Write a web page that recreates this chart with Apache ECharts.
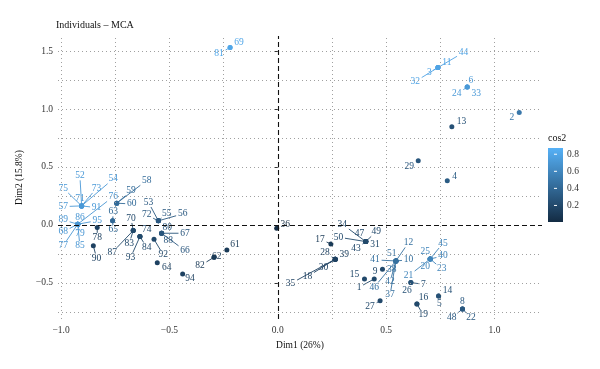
<!DOCTYPE html>
<html><head><meta charset="utf-8">
<script src="https://cdn.jsdelivr.net/npm/echarts@6/dist/echarts.min.js"></script>
<style>html,body{margin:0;padding:0;background:#fff}#c{width:600px;height:369px}</style>
</head><body><div id="c"></div>
<script>
// individual labels
const ids = [69,81,
 11,3,44,32,
 6,24,33,
 2,13,4,29,
 52,75,73,54,71,57,91,
 89,86,95,68,79,77,85,76,
 59,60,58,
 63,65,
 78,
 90,
 70,83,87,
 74,93,84,
 53,72,55,56,
 80,67,88,66,
 92,
 64,
 94,
 62,82,
 61,
 36,
 17,
 39,28,30,18,35,
 34,47,49,50,31,43,
 15,
 1,
 9,
 51,41,10,38,42,37,12,46,
 25,20,21,45,40,23,
 7,26,
 27,
 16,19,
 14,5,
 8,22,48];
// coordinates on Dim1
const dim1 = [-0.220,-0.220,
 0.739,0.739,0.739,0.739,
 0.874,0.874,0.874,
 1.114,0.803,0.782,0.648,
 -0.905,-0.905,-0.905,-0.905,-0.905,-0.905,-0.905,
 -0.923,-0.923,-0.923,-0.923,-0.923,-0.923,-0.923,-0.923,
 -0.743,-0.743,-0.743,
 -0.762,-0.762,
 -0.833,
 -0.851,
 -0.667,-0.667,-0.667,
 -0.636,-0.636,-0.636,
 -0.551,-0.551,-0.551,-0.551,
 -0.536,-0.536,-0.536,-0.536,
 -0.571,
 -0.556,
 -0.439,
 -0.294,-0.294,
 -0.235,
 -0.005,
 0.245,
 0.265,0.265,0.265,0.265,0.265,
 0.406,0.406,0.406,0.406,0.406,0.406,
 0.400,
 0.445,
 0.483,
 0.545,0.545,0.545,0.545,0.545,0.545,0.545,0.545,
 0.703,0.703,0.703,0.703,0.703,0.703,
 0.614,0.614,
 0.472,
 0.642,0.642,
 0.742,0.742,
 0.852,0.852,0.852];
// coordinates on Dim2
const dim2 = [1.531,1.531,
 1.358,1.358,1.358,1.358,
 1.189,1.189,1.189,
 0.970,0.846,0.380,0.553,
 0.164,0.164,0.164,0.164,0.164,0.164,0.164,
 0.006,0.006,0.006,0.006,0.006,0.006,0.006,0.006,
 0.187,0.187,0.187,
 0.035,0.035,
 -0.023,
 -0.179,
 -0.049,-0.049,-0.049,
 -0.101,-0.101,-0.101,
 0.035,0.035,0.035,0.035,
 -0.072,-0.072,-0.072,-0.072,
 -0.124,
 -0.326,
 -0.423,
 -0.279,-0.279,
 -0.216,
 -0.028,
 -0.164,
 -0.296,-0.296,-0.296,-0.296,-0.296,
 -0.144,-0.144,-0.144,-0.144,-0.144,-0.144,
 -0.466,
 -0.466,
 -0.383,
 -0.311,-0.311,-0.311,-0.311,-0.311,-0.311,-0.311,-0.311,
 -0.294,-0.294,-0.294,-0.294,-0.294,-0.294,
 -0.498,-0.498,
 -0.654,
 -0.682,-0.682,
 -0.613,-0.613,
 -0.725,-0.725,-0.725];
// quality of representation
const cos2 = [0.80,0.80,
 0.78,0.78,0.78,0.78,
 0.72,0.72,0.72,
 0.50,0.25,0.32,0.28,
 0.72,0.72,0.72,0.72,0.72,0.72,0.72,
 0.70,0.70,0.70,0.70,0.70,0.70,0.70,0.70,
 0.42,0.42,0.42,
 0.40,0.40,
 0.15,
 0.15,
 0.20,0.20,0.20,
 0.20,0.20,0.20,
 0.30,0.30,0.30,0.30,
 0.28,0.28,0.28,0.28,
 0.20,
 0.15,
 0.15,
 0.10,0.10,
 0.10,
 0.01,
 0.10,
 0.15,0.15,0.15,0.15,0.15,
 0.20,0.20,0.20,0.20,0.20,0.20,
 0.20,
 0.20,
 0.20,
 0.45,0.45,0.45,0.45,0.45,0.45,0.45,0.45,
 0.58,0.58,0.58,0.58,0.58,0.58,
 0.25,0.25,
 0.20,
 0.20,0.20,
 0.25,0.25,
 0.30,0.30,0.30];
// repelled label anchor positions (data units)
const labDim1 = [-0.179,-0.271,
 0.780,0.699,0.857,0.634,
 0.891,0.826,0.916,
 1.080,0.848,0.816,0.606,
 -0.913,-0.990,-0.836,-0.759,-0.913,-0.990,-0.836,
 -0.990,-0.913,-0.833,-0.990,-0.913,-0.990,-0.913,-0.759,
 -0.677,-0.674,-0.605,
 -0.759,-0.759,
 -0.833,
 -0.836,
 -0.677,-0.685,-0.764,
 -0.605,-0.679,-0.605,
 -0.597,-0.605,-0.512,-0.439,
 -0.510,-0.428,-0.505,-0.428,
 -0.528,
 -0.512,
 -0.405,
 -0.282,-0.359,
 -0.197,
 0.035,
 0.195,
 0.307,0.218,0.211,0.137,0.059,
 0.298,0.377,0.454,0.280,0.449,0.361,
 0.354,
 0.375,
 0.449,
 0.526,0.449,0.603,0.526,0.518,0.518,0.603,0.445,
 0.680,0.680,0.603,0.762,0.762,0.757,
 0.672,0.596,
 0.426,
 0.672,0.671,
 0.783,0.746,
 0.852,0.892,0.803];
const labDim2 = [1.574,1.477,
 1.402,1.315,1.488,1.237,
 1.246,1.131,1.131,
 0.930,0.889,0.415,0.501,
 0.426,0.317,0.317,0.397,0.231,0.158,0.149,
 0.043,0.066,0.037,-0.060,-0.072,-0.179,-0.181,0.244,
 0.294,0.181,0.383,
 0.115,-0.043,
 -0.110,
 -0.288,
 0.058,-0.158,-0.239,
 -0.043,-0.282,-0.193,
 0.196,0.086,0.101,0.095,
 -0.020,-0.072,-0.138,-0.222,
 -0.259,
 -0.365,
 -0.466,
 -0.274,-0.354,
 -0.173,
 0.006,
 -0.123,
 -0.259,-0.239,-0.365,-0.446,-0.507,
 0.006,-0.078,-0.058,-0.106,-0.167,-0.207,
 -0.426,
 -0.538,
 -0.403,
 -0.250,-0.302,-0.302,-0.383,-0.490,-0.604,-0.153,-0.538,
 -0.231,-0.360,-0.440,-0.158,-0.268,-0.380,
 -0.512,-0.567,
 -0.706,
 -0.624,-0.777,
 -0.570,-0.676,
 -0.662,-0.803,-0.803];

const xTicks = [-1.0,-0.5,0.0,0.5,1.0];
const yTicks = [-0.5,0.0,0.5,1.0,1.5];
const xGrid = [-1.0,-0.75,-0.5,-0.25,0.0,0.25,0.5,0.75,1.0];
const yGrid = [-0.75,-0.5,-0.25,0.0,0.25,0.5,0.75,1.0,1.25,1.5];
const legendTicks = [0.2,0.4,0.6,0.8];
const cosRange = [0.006,0.873];

const FONT = '"Liberation Serif", "Times New Roman", serif';
const LOW=[0x13,0x2B,0x43], HIGH=[0x56,0xB1,0xF7];
function colorOf(v){
  let t=(v-cosRange[0])/(cosRange[1]-cosRange[0]); t=Math.max(0,Math.min(1,t));
  const c=LOW.map((l,i)=>Math.round(l+(HIGH[i]-l)*t));
  return 'rgb('+c.join(',')+')';
}
const fmt = v => (v<0?'\u2212':'') + Math.abs(v).toFixed(1);

const chart = echarts.init(document.getElementById('c'), null, {renderer:'canvas'});

// colorbar legend
const barX=548, barY=148, barW=15, barH=74;
const lgY = v => barY + barH - (v-cosRange[0])/(cosRange[1]-cosRange[0])*barH;
const graphic = [
  {type:'text', x:barX, y:barY-15, style:{text:'cos2', font:'10px '+FONT, fill:'#111'}},
  {type:'rect', shape:{x:barX,y:barY,width:barW,height:barH},
   style:{fill:new echarts.graphic.LinearGradient(0,0,0,1,[{offset:0,color:colorOf(cosRange[1])},{offset:1,color:colorOf(cosRange[0])}])}}
];
legendTicks.forEach(v=>{
  const y=lgY(v);
  graphic.push({type:'line', shape:{x1:barX+6,y1:y,x2:barX+9,y2:y}, style:{stroke:'#fff', lineWidth:1}});
  graphic.push({type:'text', x:barX+barW+4, y:y, style:{text:v.toFixed(1), font:'9.5px '+FONT, fill:'#333', verticalAlign:'middle'}});
});

const option = {
  animation:false,
  backgroundColor:'#fff',
  title:{text:'Individuals \u2013 MCA', left:56, top:20, padding:0,
    textStyle:{fontFamily:FONT, fontSize:10, fontWeight:'normal', color:'#111'}},
  grid:{left:58, right:58, top:36, bottom:50, containLabel:false},
  xAxis:{type:'value', min:-1.014, max:1.219,
    splitLine:{show:false}, axisLine:{show:false},
    axisTick:{show:true, length:3, customValues:xTicks, lineStyle:{color:'#333', width:1}},
    axisLabel:{customValues:xTicks, formatter:fmt, margin:6, color:'#333', fontFamily:FONT, fontSize:9.5},
    name:'Dim1 (26%)', nameLocation:'middle', nameGap:21,
    nameTextStyle:{fontFamily:FONT, fontSize:9.5, color:'#111'}},
  yAxis:{type:'value', min:-0.812, max:1.63,
    splitLine:{show:false}, axisLine:{show:false},
    axisTick:{show:true, length:3, customValues:yTicks, lineStyle:{color:'#333', width:1}},
    axisLabel:{customValues:yTicks, formatter:fmt, margin:5, color:'#333', fontFamily:FONT, fontSize:9.5},
    name:'Dim2 (15.8%)', nameLocation:'middle', nameGap:29,
    nameTextStyle:{fontFamily:FONT, fontSize:9.5, color:'#111'}},
  graphic: graphic,
  series:[
    {type:'line', data:[], silent:true, z:1,
     markLine:{silent:true, symbol:'none', label:{show:false}, animation:false,
       lineStyle:{type:[1,3], color:'#a0a0a0', width:1},
       data: xGrid.map(v=>({xAxis:v})).concat(yGrid.map(v=>({yAxis:v})))}},
    {type:'line', data:[], silent:true, z:2,
     markLine:{silent:true, symbol:'none', label:{show:false}, animation:false,
       lineStyle:{type:[5,3], color:'#111', width:1.1},
       data:[{xAxis:0},{yAxis:0}]}},
    {type:'scatter', z:3, symbolSize:5,
     data: dim1.map((x,i)=>[x, dim2[i], cos2[i]]),
     itemStyle:{color: p=>colorOf(p.value[2]), opacity:1}},
    {type:'custom', z:4, silent:true,
     data: ids.map((id,i)=>[dim1[i], dim2[i], labDim1[i], labDim2[i], cos2[i], id]),
     encode:{x:0, y:1},
     renderItem:(params, api)=>{
       const p = api.coord([api.value(0), api.value(1)]);
       const l = api.coord([api.value(2), api.value(3)]);
       const id = String(api.value(5));
       const col = colorOf(api.value(4));
       const hw = id.length*2.5+1.5, hh = 4.8;
       const dx = l[0]-p[0], dy = l[1]-p[1];
       const d = Math.hypot(dx,dy);
       const children = [];
       if (d>0){
         const s = Math.min(dx? hw/Math.abs(dx) : Infinity, dy? hh/Math.abs(dy) : Infinity);
         if (s<1 && d*(1-s)>4){
           children.push({type:'line', shape:{x1:p[0],y1:p[1],x2:l[0]-dx*s,y2:l[1]-dy*s},
             style:{stroke:col, lineWidth:0.9}});
         }
       }
       children.push({type:'text', x:l[0], y:l[1], style:{text:id, align:'center', verticalAlign:'middle', fill:col, font:'9.5px '+FONT}});
       return {type:'group', children};
     }}
  ]
};
chart.setOption(option);
</script>
</body></html>
